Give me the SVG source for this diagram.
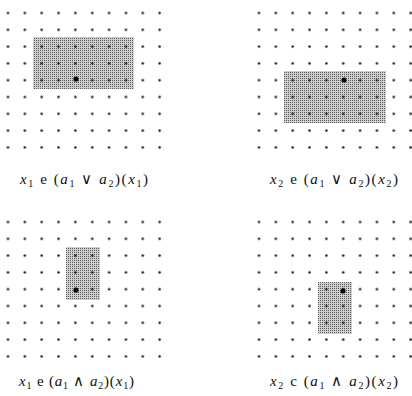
<svg xmlns="http://www.w3.org/2000/svg" width="412" height="396" viewBox="0 0 412 396">
<style>
.bg{fill:#fff}
.grid{fill:url(#dots)}
.shade{fill:url(#ht)}
.big{fill:#000}
text{font-family:"Liberation Serif","Times New Roman",serif;font-size:15px;fill:#111}
.i{font-style:italic}
.s{font-size:10px}
</style>
<defs>
<pattern id="dots" patternUnits="userSpaceOnUse" width="16.85" height="16.8">
<circle cx="8.425" cy="8.4" r="1.2" fill="#111"/>
</pattern>
<pattern id="ht" patternUnits="userSpaceOnUse" width="2" height="2">
<rect width="2" height="2" fill="#cfcfcf"/>
<rect width="1" height="1" fill="#5a5a5a"/>
</pattern>
</defs>
<rect class="bg" width="412" height="396"/>
<g id="panel-or-x1">
<rect class="shade" x="33" y="37" width="101" height="52"/>
<rect class="grid" transform="translate(-0.425,4.6)" width="168.5" height="151.2"/>
<circle class="big" cx="76" cy="79" r="2.6"/>
<text x="20" y="184" textLength="128" lengthAdjust="spacing"><tspan class="i">x</tspan><tspan class="s" dy="3">1</tspan><tspan dy="-3"> e (</tspan><tspan class="i">a</tspan><tspan class="s" dy="3">1</tspan><tspan dy="-3">  ∨  </tspan><tspan class="i">a</tspan><tspan class="s" dy="3">2</tspan><tspan dy="-3">)(</tspan><tspan class="i">x</tspan><tspan class="s" dy="3">1</tspan><tspan dy="-3">)</tspan></text>
</g>
<g id="panel-or-x2">
<rect class="shade" x="284" y="71" width="102" height="52"/>
<rect class="grid" transform="translate(250.575,4.6)" width="168.5" height="151.2"/>
<circle class="big" cx="344" cy="80" r="2.6"/>
<text x="270" y="184" textLength="128" lengthAdjust="spacing"><tspan class="i">x</tspan><tspan class="s" dy="3">2</tspan><tspan dy="-3"> e (</tspan><tspan class="i">a</tspan><tspan class="s" dy="3">1</tspan><tspan dy="-3">  ∨  </tspan><tspan class="i">a</tspan><tspan class="s" dy="3">2</tspan><tspan dy="-3">)(</tspan><tspan class="i">x</tspan><tspan class="s" dy="3">2</tspan><tspan dy="-3">)</tspan></text>
</g>
<g id="panel-and-x1">
<rect class="shade" x="66" y="247" width="34" height="53"/>
<rect class="grid" transform="translate(-0.425,213.6)" width="168.5" height="151.2"/>
<circle class="big" cx="76" cy="290" r="2.6"/>
<text x="19" y="386" textLength="115" lengthAdjust="spacing"><tspan class="i">x</tspan><tspan class="s" dy="3">1</tspan><tspan dy="-3"> e (</tspan><tspan class="i">a</tspan><tspan class="s" dy="3">1</tspan><tspan dy="-3">  ∧  </tspan><tspan class="i">a</tspan><tspan class="s" dy="3">2</tspan><tspan dy="-3">)(</tspan><tspan class="i">x</tspan><tspan class="s" dy="3">1</tspan><tspan dy="-3">)</tspan></text>
</g>
<g id="panel-and-x2">
<rect class="shade" x="318" y="282" width="34" height="52"/>
<rect class="grid" transform="translate(250.575,213.6)" width="168.5" height="151.2"/>
<circle class="big" cx="343" cy="291" r="2.6"/>
<text x="270" y="386" textLength="128" lengthAdjust="spacing"><tspan class="i">x</tspan><tspan class="s" dy="3">2</tspan><tspan dy="-3"> c (</tspan><tspan class="i">a</tspan><tspan class="s" dy="3">1</tspan><tspan dy="-3">  ∧  </tspan><tspan class="i">a</tspan><tspan class="s" dy="3">2</tspan><tspan dy="-3">)(</tspan><tspan class="i">x</tspan><tspan class="s" dy="3">2</tspan><tspan dy="-3">)</tspan></text>
</g>
</svg>
